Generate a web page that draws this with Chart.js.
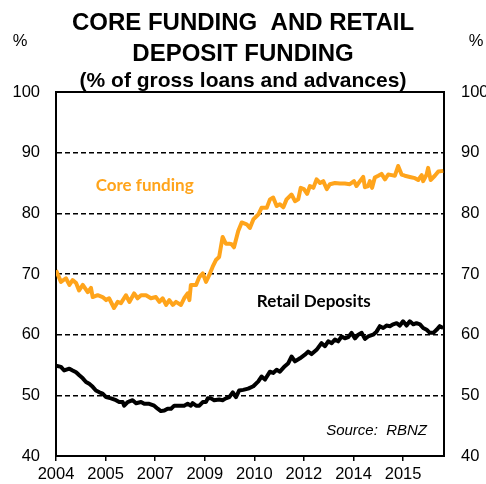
<!DOCTYPE html>
<html>
<head>
<meta charset="utf-8">
<title>Core funding and retail deposit funding</title>
<script src="https://cdn.jsdelivr.net/npm/chart.js@4.4.1/dist/chart.umd.min.js"></script>
<style>
  html, body { margin: 0; padding: 0; background: #fff; }
  #chart { display: block; }
</style>
</head>
<body>
<canvas id="chart" width="486" height="484"></canvas>
<script>
// x values are months counted from Jan 2004
const coreMonths = [0, 2.0, 4.0, 5.4, 6.7, 8.1, 9.3, 10.8, 12.8, 14.1, 14.8, 16.8, 18.8, 20.2, 21.4, 23.4,
  24.9, 26.2, 28.2, 29.6, 31.5, 32.9, 34.3, 36.3, 38.3, 40.3, 41.7, 43.0, 44.4, 45.7, 47.1, 48.4,
  50.4, 51.7, 53.1, 53.8, 54.4, 56.5, 57.8, 59.2, 60.5, 61.8, 63.2, 64.5, 65.8, 67.2, 68.5, 69.9,
  70.8, 71.8, 73.5, 74.9, 76.9, 78.2, 79.6, 81.6, 82.9, 85.0, 86.3, 87.6, 89.0, 90.3, 91.7, 93.0,
  95.0, 96.4, 97.7, 98.7, 100.0, 101.3, 102.4, 103.8, 105.1, 106.5, 107.8, 109.2, 110.5, 112.5,
  114.5, 116.5, 118.5, 120.2, 121.2, 122.6, 123.9, 124.6, 125.9, 126.6, 127.5, 128.6, 130.0,
  131.3, 132.7, 134.0, 135.4, 136.7, 138.0, 139.4, 140.7, 142.7, 144.8, 146.1, 147.5, 148.1,
  149.5, 150.1, 151.1, 152.8, 154.2, 156.2];
const coreValues = [70.6, 68.7, 69.3, 68.2, 69.0, 68.5, 67.3, 68.2, 67.0, 67.7, 66.2, 66.5, 66.2, 65.7, 66.0, 64.4,
  65.4, 65.2, 66.5, 65.4, 66.8, 66.0, 66.5, 66.5, 66.0, 66.2, 65.4, 66.0, 64.9, 65.7, 64.9, 65.4,
  64.9, 66.0, 66.8, 65.7, 68.2, 68.2, 69.5, 70.1, 68.7, 69.8, 71.2, 72.3, 72.8, 76.1, 75.0, 75.0,
  74.9, 74.4, 77.1, 78.5, 78.2, 77.6, 79.0, 79.8, 80.9, 80.9, 82.3, 82.6, 81.2, 81.5, 81.0, 82.3,
  83.1, 82.0, 82.3, 84.2, 84.0, 83.2, 84.5, 84.2, 85.6, 85.0, 85.3, 84.0, 84.8, 85.0,
  84.9, 84.9, 84.8, 85.3, 84.5, 85.3, 86.0, 84.3, 84.5, 85.3, 84.2, 85.9, 86.2,
  86.5, 85.6, 86.4, 86.3, 86.2, 87.8, 86.4, 86.2, 86.0, 85.8, 85.5, 86.3, 85.3,
  86.4, 87.5, 85.5, 86.2, 86.9, 87.0];

const retailMonths = [0, 2.0, 3.3, 5.4, 6.7, 8.1, 9.4, 10.8, 12.1, 13.4, 14.8, 16.1, 17.5, 18.8, 20.2, 22.2,
  24.2, 25.5, 26.9, 27.5, 28.9, 30.9, 32.3, 34.3, 35.6, 37.6, 39.6, 41.0, 42.3, 43.7, 45.0, 46.4,
  47.7, 49.7, 51.7, 53.1, 54.4, 55.1, 56.5, 57.8, 59.2, 60.5, 61.2, 62.5, 63.8, 65.8, 67.2, 68.5,
  69.9, 71.3, 72.6, 73.9, 75.5, 77.5, 79.6, 81.6, 82.9, 84.3, 86.3, 87.6, 89.0, 90.3, 92.3, 93.7,
  95.0, 96.4, 98.4, 100.4, 101.7, 103.1, 105.1, 107.1, 108.5, 109.8, 111.2, 112.5, 113.8, 115.2,
  116.5, 117.9, 119.2, 120.6, 121.9, 123.3, 124.6, 125.9, 127.9, 129.3, 130.6, 132.0, 133.3,
  134.7, 136.0, 137.4, 138.7, 140.0, 141.4, 142.7, 144.1, 145.4, 146.8, 148.1, 149.5, 150.8,
  152.2, 153.5, 154.8, 156.2];
const retailValues = [54.9, 54.7, 54.1, 54.4, 54.1, 53.8, 53.3, 52.8, 52.2, 51.9, 51.4, 50.8, 50.5, 50.3, 49.7, 49.5,
  49.2, 48.9, 48.9, 48.3, 48.9, 49.2, 48.7, 48.9, 48.6, 48.6, 48.3, 47.8, 47.4, 47.5, 47.8, 47.8,
  48.3, 48.3, 48.3, 48.6, 48.3, 48.7, 48.3, 48.3, 48.9, 48.9, 49.5, 49.5, 49.2, 49.3, 49.2, 49.5,
  49.7, 50.5, 49.7, 50.8, 50.9, 51.1, 51.5, 52.3, 53.1, 52.6, 53.9, 53.7, 54.2, 53.9, 54.8, 55.3,
  56.4, 55.6, 56.1, 56.7, 57.2, 56.8, 57.5, 58.6, 58.1, 58.9, 58.6, 59.2, 58.9, 59.7,
  59.4, 59.6, 60.3, 59.4, 60.0, 60.3, 59.3, 59.7, 60.0, 60.5, 61.4, 61.1, 61.5,
  61.4, 61.7, 61.9, 61.5, 62.2, 61.5, 62.2, 61.7, 61.9, 61.7, 61.1, 60.8, 60.3,
  60.3, 60.8, 61.4, 61.1];

// axis ticks every 20 months
const xTickMonths = [0, 20, 40, 60, 80, 100, 120, 140];
const xTickLabels = ['2004', '2005', '2007', '2009', '2010', '2012', '2014', '2015'];
const yTicks = [40, 50, 60, 70, 80, 90, 100];

const ORANGE = '#FFA41B';
const SANS = '"Liberation Sans", Arial, sans-serif';
const tickFont = { family: SANS, size: 16.5 };

const toPoints = (months, values) => months.map((m, i) => ({ x: m, y: values[i] }));

// pin the scale boxes so the frame sits at a fixed place
const fixWidth = w => scale => { scale.width = w; };
const fixHeight = h => scale => { scale.height = h; };
const setYTicks = scale => { scale.ticks = yTicks.map(v => ({ value: v })); };

// series names, % units and source note
const chartText = {
  id: 'chartText',
  afterDraw(chart) {
    const { ctx, chartArea, scales: { x, y } } = chart;
    ctx.save();
    ctx.fillStyle = '#000';
    ctx.font = '16.5px ' + SANS;
    ctx.textAlign = 'center';
    ctx.textBaseline = 'middle';
    ctx.fillText('%', 20, 41);
    ctx.fillText('%', 476, 41);

    ctx.textAlign = 'left';
    ctx.textBaseline = 'alphabetic';
    ctx.font = 'bold 17px Lato, sans-serif';
    ctx.fillStyle = ORANGE;
    ctx.fillText('Core funding', x.getPixelForValue(16), y.getPixelForValue(83.6));
    ctx.fillStyle = '#000';
    ctx.fillText('Retail Deposits', x.getPixelForValue(81), y.getPixelForValue(64.6));

    ctx.textAlign = 'right';
    ctx.font = 'italic 15px ' + SANS;
    ctx.fillText('Source:  RBNZ', chartArea.right - 17, chartArea.bottom - 21);
    ctx.restore();
  }
};

new Chart(document.getElementById('chart'), {
  type: 'line',
  data: {
    datasets: [
      {
        label: 'Core funding',
        data: toPoints(coreMonths, coreValues),
        borderColor: ORANGE,
        borderWidth: 4,
        borderJoinStyle: 'round',
        pointRadius: 0
      },
      {
        label: 'Retail Deposits',
        data: toPoints(retailMonths, retailValues),
        borderColor: '#000',
        borderWidth: 4,
        borderJoinStyle: 'round',
        pointRadius: 0
      }
    ]
  },
  options: {
    responsive: false,
    animation: false,
    devicePixelRatio: 1,
    layout: { padding: 0 },
    plugins: {
      legend: { display: false },
      tooltip: { enabled: false },
      title: {
        display: true,
        text: ['CORE FUNDING  AND RETAIL', 'DEPOSIT FUNDING'],
        color: '#000',
        font: { family: SANS, size: 24, weight: 'bold', lineHeight: 1.3 },
        padding: { top: 8, bottom: 0 }
      },
      subtitle: {
        display: true,
        text: '(% of gross loans and advances)',
        color: '#000',
        font: { family: SANS, size: 21, weight: 'bold', lineHeight: 1.0 },
        padding: { top: 0, bottom: 0.6 }
      }
    },
    scales: {
      x: {
        type: 'linear',
        position: 'bottom',
        min: 0,
        max: 156.5,
        afterFit: fixHeight(28),
        afterBuildTicks: scale => { scale.ticks = xTickMonths.map(v => ({ value: v })); },
        ticks: {
          color: '#000',
          font: tickFont,
          padding: 4,
          maxRotation: 0,
          autoSkip: false,
          callback: (value, index) => xTickLabels[index]
        },
        grid: { drawOnChartArea: false, drawTicks: true, tickLength: 5, color: '#000', lineWidth: 1.5 },
        border: { display: true, color: '#000', width: 2 }
      },
      top: {
        type: 'linear',
        position: 'top',
        afterFit: fixHeight(0),
        ticks: { display: false },
        grid: { drawOnChartArea: false, drawTicks: false },
        border: { display: true, color: '#000', width: 2 }
      },
      y: {
        position: 'left',
        min: 40,
        max: 100,
        afterFit: fixWidth(56),
        afterBuildTicks: setYTicks,
        ticks: { color: '#000', font: tickFont, padding: 16 },
        grid: {
          drawTicks: false,
          lineWidth: 1.5,
          color: c => (c.tick && (c.tick.value === 40 || c.tick.value === 100)) ? 'rgba(0,0,0,0)' : '#000'
        },
        border: { display: true, color: '#000', width: 2, dash: [5, 3] }
      },
      y2: {
        position: 'right',
        min: 40,
        max: 100,
        afterFit: fixWidth(42),
        afterBuildTicks: setYTicks,
        ticks: { color: '#000', font: tickFont, padding: 17 },
        grid: { drawOnChartArea: false, drawTicks: false },
        border: { display: true, color: '#000', width: 2 }
      }
    }
  },
  plugins: [chartText]
});
</script>
</body>
</html>
